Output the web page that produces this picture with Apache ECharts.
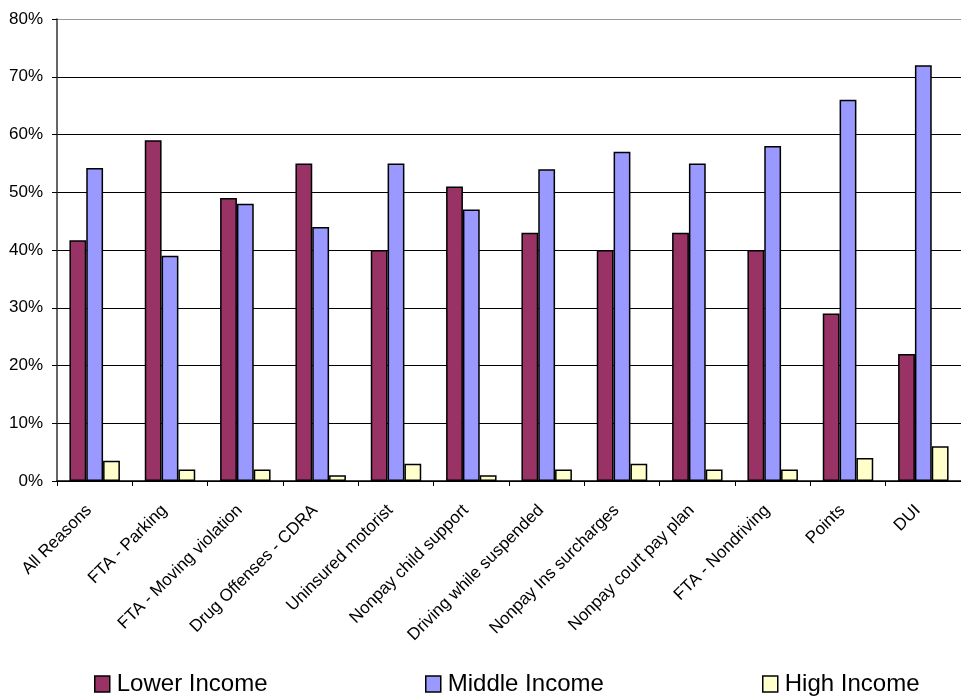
<!DOCTYPE html>
<html><head><meta charset="utf-8">
<script src="https://cdn.jsdelivr.net/npm/echarts@6/dist/echarts.min.js"></script>
<style>html,body{margin:0;padding:0;background:#fff;overflow:hidden}#c{width:961px;height:696px}</style>
</head><body><div id="c"></div>
<script>
const categories = ["All Reasons","FTA - Parking","FTA - Moving violation","Drug Offenses - CDRA","Uninsured motorist","Nonpay child support","Driving while suspended","Nonpay Ins surcharges","Nonpay court pay plan","FTA - Nondriving","Points","DUI"];
const lowerIncome = [41.7,59,49,55,40,51,43,40,43,40,29,22];
const middleIncome = [54.2,39,48,44,55,47,54,57,55,58,66,72];
const highIncome = [3.5,2,2,1,3,1,2,3,2,2,4,6];
const yTicks = [0,10,20,30,40,50,60,70,80];

const chart = echarts.init(document.getElementById('c'), null, {renderer:'canvas'});
const font = 'Liberation Sans, Arial, sans-serif';
const barStyle = c => ({color:c, borderColor:'#000', borderWidth:1.5});
const legendCommon = {bottom:0, padding:0, itemWidth:15, itemHeight:16, icon:'rect',
  textStyle:{fontFamily:font, fontSize:24, color:'#000', padding:[0,0,0,2]}};
chart.setOption({
  animation:false,
  grid:{left:57, top:19, right:-8, bottom:215},
  legend:[
    Object.assign({data:[{name:'Lower Income', itemStyle:barStyle('#993366')}], left:94}, legendCommon),
    Object.assign({data:[{name:'Middle Income', itemStyle:barStyle('#9999FF')}], left:425}, legendCommon),
    Object.assign({data:[{name:'High Income', itemStyle:barStyle('#FFFFCC')}], left:762}, legendCommon)
  ],
  xAxis:{type:'category', data:categories,
    axisLine:{lineStyle:{color:'#000', width:1.5}},
    axisTick:{show:true, length:5, lineStyle:{color:'#000'}},
    axisLabel:{rotate:45, interval:0, fontFamily:font, fontSize:17, color:'#000', margin:21, padding:[0,8,0,0]}},
  yAxis:{type:'value', min:yTicks[0], max:yTicks[yTicks.length-1], interval:10,
    axisLine:{show:true, lineStyle:{color:'#333', width:1.5}},
    axisTick:{show:true, length:5, lineStyle:{color:'#000'}},
    axisLabel:{formatter:'{value}%', fontFamily:font, fontSize:17, color:'#000', margin:14},
    splitLine:{lineStyle:{color:['#000','#000','#000','#000','#000','#000','#000','#000','#999'], width:1}}},
  series:[
    {name:'Lower Income', type:'bar', data:lowerIncome, itemStyle:barStyle('#993366'), barGap:'0%', barCategoryGap:'33%'},
    {name:'Middle Income', type:'bar', data:middleIncome, itemStyle:barStyle('#9999FF'), barGap:'0%', barCategoryGap:'33%'},
    {name:'High Income', type:'bar', data:highIncome, itemStyle:barStyle('#FFFFCC'), barGap:'0%', barCategoryGap:'33%'}
  ]
});
</script></body></html>
